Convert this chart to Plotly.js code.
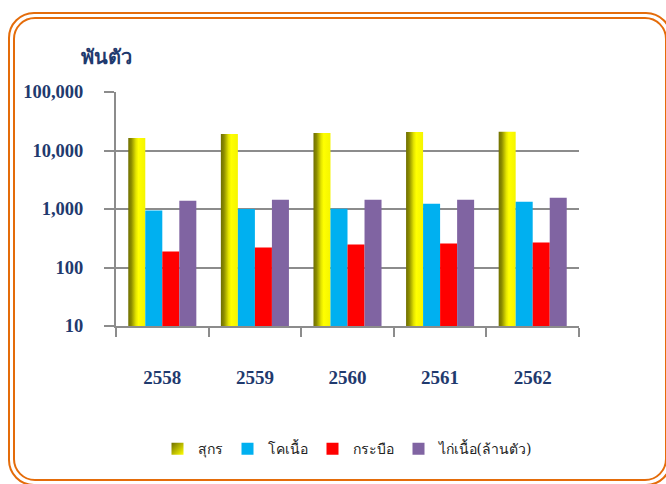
<!DOCTYPE html>
<html>
<head>
<meta charset="utf-8">
<script src="https://cdn.plot.ly/plotly-3.0.1.min.js"></script>
<style>
  html, body { margin:0; padding:0; background:#fff; }
  #wrap { position:relative; width:666px; height:484px; overflow:hidden; background:#fff; }
  #chart { position:absolute; left:0; top:0; width:666px; height:484px; }
  .b1 { position:absolute; left:8px; top:12px; width:664px; height:474px; border:2px solid #E46C0A; border-radius:26px; box-sizing:border-box; pointer-events:none; }
  .b2 { position:absolute; left:13px; top:17px; width:654px; height:464px; border:2px solid #E46C0A; border-radius:22px; box-sizing:border-box; pointer-events:none; }
</style>
</head>
<body>
<div id="wrap">
  <div id="chart"></div>
  <div class="b1"></div>
  <div class="b2"></div>
</div>
<script>
// ---- data ----
var years = ['2558', '2559', '2560', '2561', '2562'];
var seriesNames = ['สุกร', 'โคเนื้อ', 'กระบือ', 'ไก่เนื้อ(ล้านตัว)'];
var pig = [16300, 19200, 19900, 20800, 20900];
var beef = [940, 1000, 1010, 1230, 1330];
var buffalo = [187, 219, 247, 256, 267];
var chicken = [1385, 1440, 1440, 1440, 1550];
var yTickVals = [10, 100, 1000, 10000, 100000];
var yTickText = ['10', '100', '1,000', '10,000', '100,000'];
var unitLabel = 'พันตัว';

var colors = ['#E6E600', '#00B0F0', '#FF0000', '#8064A2'];
var allVals = [pig, beef, buffalo, chicken];

var traces = allVals.map(function (v, i) {
  return {
    type: 'bar',
    name: seriesNames[i],
    x: years,
    y: v,
    marker: { color: colors[i], line: { width: 0 } },
    hoverinfo: 'x+y+name'
  };
});

var navy = '#1F3A6E';
var layout = {
  width: 666, height: 484,
  margin: { l: 116, r: 87, t: 92, b: 158 },
  paper_bgcolor: 'rgba(0,0,0,0)',
  plot_bgcolor: 'rgba(0,0,0,0)',
  barmode: 'group',
  bargap: 0.265,
  bargroupgap: 0,
  showlegend: true,
  legend: {
    orientation: 'h',
    x: 0.5, xanchor: 'center',
    y: -0.526, yanchor: 'middle',
    font: { family: 'Tahoma, "DejaVu Serif", "Liberation Serif", serif', size: 14, color: '#222' },
    itemwidth: 30,
    traceorder: 'normal'
  },
  xaxis: {
    type: 'category',
    showgrid: false,
    showline: true, linecolor: '#8C8C8C', linewidth: 2,
    ticks: 'outside', tickson: 'boundaries', ticklen: 9, tickcolor: '#8C8C8C', tickwidth: 2,
    ticklabelstandoff: 33,
    tickfont: { family: '"Liberation Serif", "Times New Roman", serif', size: 19, color: navy, weight: 'bold' },
    zeroline: false
  },
  yaxis: {
    type: 'log',
    range: [1, 5],
    tickmode: 'array',
    tickvals: yTickVals,
    ticktext: yTickText,
    showgrid: true, gridcolor: '#8C8C8C', gridwidth: 2,
    showline: true, linecolor: '#8C8C8C', linewidth: 2,
    ticks: 'outside', ticklen: 10, tickcolor: '#8C8C8C', tickwidth: 2,
    ticklabelstandoff: 17,
    tickfont: { family: '"Liberation Serif", "Times New Roman", serif', size: 18.5, color: navy, weight: 'bold' },
    zeroline: false
  },
  annotations: [{
    text: unitLabel,
    xref: 'paper', yref: 'paper',
    x: -0.02, y: 1.15, xanchor: 'center', yanchor: 'middle',
    showarrow: false,
    font: { family: 'Tahoma, "DejaVu Serif", "Liberation Serif", serif', size: 20, color: navy, weight: 'bold' }
  }]
};

Plotly.newPlot('chart', traces, layout, { displayModeBar: false, staticPlot: true }).then(function (gd) {
  var svg = gd.querySelector('svg.main-svg');
  var ns = 'http://www.w3.org/2000/svg';
  var defs = svg.querySelector('defs') || svg.insertBefore(document.createElementNS(ns, 'defs'), svg.firstChild);
  function addGrad(id, x2, y2, stops) {
    var g = document.createElementNS(ns, 'linearGradient');
    g.setAttribute('id', id);
    g.setAttribute('x1', '0'); g.setAttribute('y1', '0');
    g.setAttribute('x2', x2); g.setAttribute('y2', y2);
    stops.forEach(function (s) {
      var st = document.createElementNS(ns, 'stop');
      st.setAttribute('offset', s[0]);
      st.setAttribute('stop-color', s[1]);
      g.appendChild(st);
    });
    defs.appendChild(g);
  }
  addGrad('ygrad', '1', '0', [['0%', '#6F6F00'], ['18%', '#8C8C00'], ['45%', '#E4E400'], ['60%', '#FFFF00'], ['100%', '#F5F500']]);
  addGrad('ygradLeg', '1', '1', [['0%', '#6F6F00'], ['100%', '#FFFF00']]);
  var barTraces = svg.querySelectorAll('.barlayer .trace');
  if (barTraces.length) {
    barTraces[0].querySelectorAll('path').forEach(function (p) { p.style.fill = 'url(#ygrad)'; });
  }
  var legItems = gd.querySelectorAll('.legend .traces');
  if (legItems.length) {
    legItems[0].querySelectorAll('.legendpoints path').forEach(function (p) { p.style.fill = 'url(#ygradLeg)'; });
  }
});
</script>
</body>
</html>
